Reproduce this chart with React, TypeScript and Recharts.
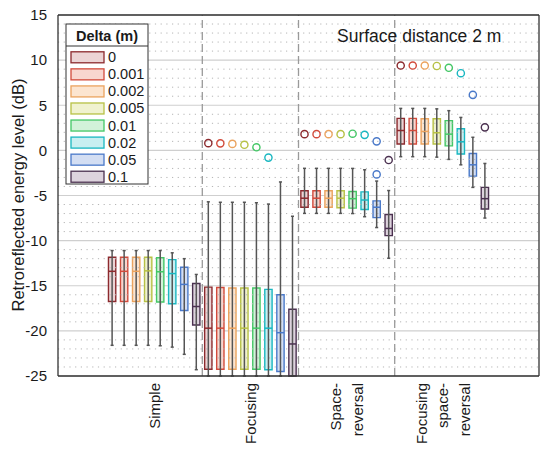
import React from 'react';
import {
  ComposedChart, XAxis, YAxis, CartesianGrid, ReferenceArea, ReferenceLine, Scatter,
} from 'recharts';

const FONT = '"Liberation Sans", Arial, sans-serif';

const GROUPS = [['Simple'], ['Focusing'], ['Space-', 'reversal'], ['Focusing', 'space-', 'reversal']];
const DELTAS = ['0', '0.001', '0.002', '0.005', '0.01', '0.02', '0.05', '0.1'];
const STROKES = ['#8c2a2e', '#d24b3c', '#eba35e', '#b7c145', '#44c766', '#19b7c1', '#4a79c9', '#4b3150'];
const FILLS = ['#ecd4d5', '#f8d6cf', '#fce5d0', '#f0f2cf', '#d2f2d9', '#c8eff1', '#d3def3', '#ddd3dd'];

// [lower whisker, Q1, median, Q3, upper whisker] per delta
const SIMPLE = [
  [-21.6, -16.75, -13.4, -11.85, -11.1],
  [-21.6, -16.75, -13.4, -11.85, -11.1],
  [-21.6, -16.75, -13.4, -11.85, -11.1],
  [-21.6, -16.75, -13.35, -11.85, -11.1],
  [-21.65, -16.8, -13.45, -11.9, -11.1],
  [-21.8, -17.0, -13.65, -12.1, -11.35],
  [-22.6, -17.75, -14.85, -12.95, -12.0],
  [-24.3, -19.35, -17.3, -14.75, -13.75],
];
const FOCUSING = [
  [-25, -24.25, -19.7, -15.15, -5.7],
  [-25, -24.25, -19.7, -15.2, -5.75],
  [-25, -24.25, -19.7, -15.25, -5.75],
  [-25, -24.25, -19.7, -15.25, -5.75],
  [-25, -24.25, -19.7, -15.25, -5.8],
  [-25, -24.3, -19.7, -15.4, -5.95],
  [-25, -24.5, -20.2, -16.0, -3.5],
  [-25, -25, -21.45, -17.6, -7.3],
];
const SPACE_REV = [
  [-6.98, -6.31, -5.3, -4.47, -1.99],
  [-6.98, -6.31, -5.3, -4.47, -1.99],
  [-6.98, -6.31, -5.3, -4.47, -1.99],
  [-6.98, -6.35, -5.3, -4.47, -1.99],
  [-7.0, -6.4, -5.35, -4.55, -2.0],
  [-7.35, -6.55, -5.5, -4.6, -2.15],
  [-8.55, -7.45, -6.3, -5.6, -3.4],
  [-11.95, -9.45, -8.65, -7.1, -4.45],
];
const FOC_SPACE_REV = [
  [-0.7, 0.7, 2.2, 3.55, 4.65],
  [-0.7, 0.7, 2.2, 3.55, 4.65],
  [-0.7, 0.7, 2.1, 3.5, 4.65],
  [-0.75, 0.7, 1.95, 3.5, 4.6],
  [-1.0, 0.5, 1.8, 3.3, 4.4],
  [-1.6, -0.4, 0.95, 2.4, 3.65],
  [-4.1, -2.85, -1.6, -0.35, 1.45],
  [-7.5, -6.5, -5.35, -4.1, -1.45],
];
const BOXES = [SIMPLE, FOCUSING, SPACE_REV, FOC_SPACE_REV];

// circle markers per group, per delta (null = none)
const MARKERS = [
  [null, null, null, null, null, null, null, null],
  [0.8, 0.78, 0.72, 0.62, 0.34, -0.8, null, null],
  [1.8, 1.8, 1.8, 1.8, 1.85, 1.72, 1.0, -1.07],
  [9.4, 9.4, 9.4, 9.35, 9.15, 8.55, 6.15, 2.55],
];
const OUTLIERS = [{ group: 3, delta: 6, y: -2.66 }];

const Y_MAJOR = [-25, -20, -15, -10, -5, 0, 5, 10, 15];
const Y_MINOR = Array.from({ length: 41 }, (_, i) => i - 25);
const X_TICKS = [1, 2, 3, 4];
const SEPARATORS = [1.5, 2.5, 3.5];

const STEP = 0.125;
const HALF_BOX = 0.038;
const HALF_CAP = 0.016;
const pos = (g: number, d: number) => g + 1 + (d - 3.5) * STEP;

const XTick = ({ x, y, payload }: any) => {
  const lines = GROUPS[payload.value - 1] || [];
  return (
    <g transform={`translate(${x},${y})`}>
      <text transform="rotate(-90)" textAnchor="end" fontSize={15} fill="#1a1a1a" fontFamily={FONT}>
        {lines.map((l, i) => (
          <tspan key={i} x={0} y={(i - (lines.length - 1) / 2) * 21.5} dominantBaseline="central">{l}</tspan>
        ))}
      </text>
    </g>
  );
};

const Circle = ({ cx, cy, fill }: any) => (
  <circle cx={cx} cy={cy} r={3.6} fill="none" stroke={fill} strokeWidth={1.4} />
);

const YLabel = () => (
  <text x={18} y={195} transform="rotate(-90 18 195)" textAnchor="middle" dominantBaseline="central"
    fontSize={16.5} fill="#1a1a1a" fontFamily={FONT}>
    Retroreflected energy level (dB)
  </text>
);

export default function App() {
  const whiskers: React.ReactNode[] = [];
  const boxes: React.ReactNode[] = [];
  BOXES.forEach((grp, g) => grp.forEach(([lo, q1, med, q3, hi], d) => {
    const x = pos(g, d);
    whiskers.push(
      <ReferenceLine key={`w${g}${d}`} segment={[{ x, y: lo }, { x, y: hi }]} stroke="#555" strokeWidth={1.5} />,
      <ReferenceLine key={`ct${g}${d}`} segment={[{ x: x - HALF_CAP, y: hi }, { x: x + HALF_CAP, y: hi }]} stroke="#555" strokeWidth={1.5} />,
      <ReferenceLine key={`cb${g}${d}`} segment={[{ x: x - HALF_CAP, y: lo }, { x: x + HALF_CAP, y: lo }]} stroke="#555" strokeWidth={1.5} />,
    );
    boxes.push(
      <ReferenceArea key={`b${g}${d}`} x1={x - HALF_BOX} x2={x + HALF_BOX} y1={q1} y2={q3}
        fill={FILLS[d]} fillOpacity={1} stroke={STROKES[d]} strokeWidth={1.4} />,
      <ReferenceLine key={`m${g}${d}`} segment={[{ x: x - HALF_BOX, y: med }, { x: x + HALF_BOX, y: med }]}
        stroke={STROKES[d]} strokeWidth={1.5} />,
    );
  }));

  const markerSeries = DELTAS.map((_, d) => {
    const pts = MARKERS.map((row, g) => (row[d] == null ? null : { x: pos(g, d), y: row[d] }))
      .filter(Boolean) as { x: number; y: number }[];
    OUTLIERS.filter(o => o.delta === d).forEach(o => pts.push({ x: pos(o.group - 1, d), y: o.y }));
    return pts;
  });

  return (
    <div style={{ position: 'absolute', left: 0, top: 0, width: 550, height: 455, background: '#fff' }}>
      <ComposedChart width={550} height={455} margin={{ top: 15, right: 11, bottom: 0, left: 18 }}>
        <CartesianGrid vertical={false} stroke="#cfcfcf" strokeWidth={1.2} />
        {Y_MINOR.filter(v => v % 5 !== 0).map(v => (
          <ReferenceLine key={`g${v}`} y={v} stroke="#b5b5b5" strokeDasharray="1.2 4.5" />
        ))}
        <XAxis type="number" dataKey="x" domain={[0, 5]} ticks={X_TICKS} allowDataOverflow
          height={79} tickLine={false} tickSize={0} tickMargin={7} tick={<XTick />}
          axisLine={{ stroke: '#333', strokeWidth: 1.3 }} />
        <XAxis xAxisId="bm" type="number" domain={[0, 5]} ticks={X_TICKS} allowDataOverflow mirror
          tick={false} tickSize={4} axisLine={false} tickLine={{ stroke: '#333' }} />
        <XAxis xAxisId="top" orientation="top" type="number" domain={[0, 5]} ticks={X_TICKS} allowDataOverflow mirror
          tick={false} tickSize={4} axisLine={{ stroke: '#333', strokeWidth: 1.3 }} tickLine={{ stroke: '#333' }} />
        <YAxis type="number" dataKey="y" domain={[-25, 15]} ticks={Y_MAJOR} allowDataOverflow width={40}
          tickLine={false} tickMargin={5} axisLine={{ stroke: '#333', strokeWidth: 1.3 }}
          tick={{ fontSize: 15, fill: '#1a1a1a', fontFamily: FONT }} label={<YLabel />} />
        <YAxis yAxisId="lm" type="number" domain={[-25, 15]} ticks={Y_MINOR} allowDataOverflow mirror
          tick={false} tickSize={4} axisLine={false} tickLine={{ stroke: '#333' }} />
        <YAxis yAxisId="rm" orientation="right" type="number" domain={[-25, 15]} ticks={Y_MINOR} allowDataOverflow mirror
          tick={false} tickSize={4} axisLine={{ stroke: '#333', strokeWidth: 1.3 }} tickLine={{ stroke: '#333' }} />
        {SEPARATORS.map(s => (
          <ReferenceLine key={`s${s}`} x={s} stroke="#9a9a9a" strokeWidth={1.3} strokeDasharray="8 4" />
        ))}
        {whiskers}
        {boxes}
        {markerSeries.map((pts, d) => (
          <Scatter key={`c${d}`} data={pts} dataKey="y" fill={STROKES[d]} shape={<Circle />} isAnimationActive={false} />
        ))}
      </ComposedChart>
      <svg width={550} height={455} style={{ position: 'absolute', left: 0, top: 0, pointerEvents: 'none' }}
        fontFamily={FONT}>
        <text x={337} y={41.5} fontSize={17.5} fill="#1a1a1a">Surface distance 2 m</text>
        <rect x={66} y={24} width={82} height={160} fill="#fff" stroke="#333" strokeWidth={1} />
        <text x={107} y={36} textAnchor="middle" dominantBaseline="central" fontSize={14.5} fontWeight="bold" fill="#1a1a1a">
          Delta (m)
        </text>
        <line x1={66} x2={148} y1={46} y2={46} stroke="#333" strokeWidth={1} />
        {DELTAS.map((dl, i) => {
          const cy = 57.3 + i * 17.06;
          return (
            <g key={dl}>
              <rect x={71} y={cy - 5.5} width={33} height={11} fill={FILLS[i]} stroke={STROKES[i]} strokeWidth={1.3} />
              <text x={108} y={cy} dominantBaseline="central" fontSize={14.5} fill="#1a1a1a">{dl}</text>
            </g>
          );
        })}
      </svg>
    </div>
  );
}
